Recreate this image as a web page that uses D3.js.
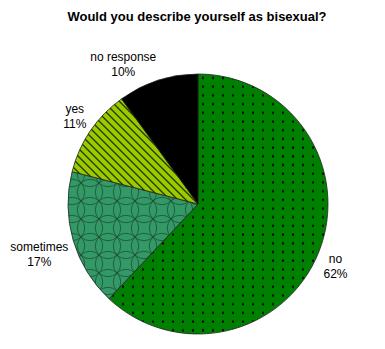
<!DOCTYPE html>
<html>
<head>
<meta charset="utf-8">
<script src="https://cdn.jsdelivr.net/npm/d3@7"></script>
<style>
  body { margin: 0; background: #fff; }
  text { font-family: "Liberation Sans", Arial, sans-serif; }
</style>
</head>
<body>
<svg id="chart" width="385" height="349"></svg>
<script>
const categories = ["no", "sometimes", "yes", "no response"]
const percents = [62, 17, 11, 10]
const fills = ["#008000", "#339966", "#99cc00", "#000000"]
const patterns = ["dots", "circles", "diag", null]

const width = 385, height = 349
const cx = 198, cy = 204, radius = 130

const svg = d3.select("#chart")
const defs = svg.append("defs")

// motifs de remplissage
const dots = defs.append("pattern").attr("id", "dots")
    .attr("patternUnits", "userSpaceOnUse").attr("width", 10).attr("height", 8.7)
dots.append("rect").attr("width", 10).attr("height", 8.7).attr("fill", fills[0])
dots.append("rect").attr("x", 4).attr("y", 3.5).attr("width", 2).attr("height", 2).attr("fill", "#000")

const circ = defs.append("pattern").attr("id", "circles")
    .attr("patternUnits", "userSpaceOnUse").attr("width", 18).attr("height", 18)
    .attr("x", cx).attr("y", cy)
circ.append("rect").attr("width", 18).attr("height", 18).attr("fill", fills[1])
;[[0,0],[18,0],[0,18],[18,18]].forEach(p => {
    circ.append("circle").attr("cx", p[0]).attr("cy", p[1]).attr("r", 18 / Math.SQRT2)
        .attr("fill", "none").attr("stroke", "#1a4d33").attr("stroke-width", 0.8)
})

const diag = defs.append("pattern").attr("id", "diag")
    .attr("patternUnits", "userSpaceOnUse").attr("width", 8).attr("height", 8)
diag.append("rect").attr("width", 8).attr("height", 8).attr("fill", fills[2])
diag.append("path").attr("d", "M-2,-2 L10,10 M-2,6 L2,10 M6,-2 L10,2")
    .attr("stroke", "#2b3300").attr("stroke-width", 1.3)

svg.append("text")
    .attr("x", 197).attr("y", 21)
    .attr("text-anchor", "middle")
    .style("font-size", "13px").style("font-weight", "bold")
    .text("Would you describe yourself as bisexual?")

const data = categories.map((c, i) => ({label: c, value: percents[i], fill: fills[i], pat: patterns[i]}))

const pie = d3.pie().value(d => d.value).sort(null)
const arc = d3.arc().innerRadius(0).outerRadius(radius)

const g = svg.append("g").attr("transform", `translate(${cx},${cy})`)

g.selectAll("path")
    .data(pie(data))
    .join("path")
    .attr("d", arc)
    .attr("fill", d => d.data.pat ? `url(#${d.data.pat})` : d.data.fill)
    .attr("stroke", "#222")
    .attr("stroke-width", 0.8)

// étiquettes : le coin le plus proche de la boîte touche le cercle au milieu de l'angle
const capH = 9, lineH = 15
g.selectAll("g.lab")
    .data(pie(data))
    .join("g")
    .attr("class", "lab")
    .each(function(d) {
        const a = (d.startAngle + d.endAngle) / 2
        const s = Math.sin(a), c = -Math.cos(a)
        const sel = d3.select(this)
        const t1 = sel.append("text").attr("text-anchor", "middle").style("font-size", "12px").text(d.data.label)
        const t2 = sel.append("text").attr("text-anchor", "middle").style("font-size", "12px").text(d.data.value + "%")
        const w = Math.max(t1.node().getComputedTextLength(), t2.node().getComputedTextLength())
        const R = radius + 5
        const px = s * R, py = c * R
        const x = s >= 0 ? px + w / 2 : px - w / 2
        const y1 = c >= 0 ? py + capH : py - lineH
        t1.attr("x", x).attr("y", y1)
        t2.attr("x", x).attr("y", y1 + lineH)
    })
</script>
</body>
</html>
